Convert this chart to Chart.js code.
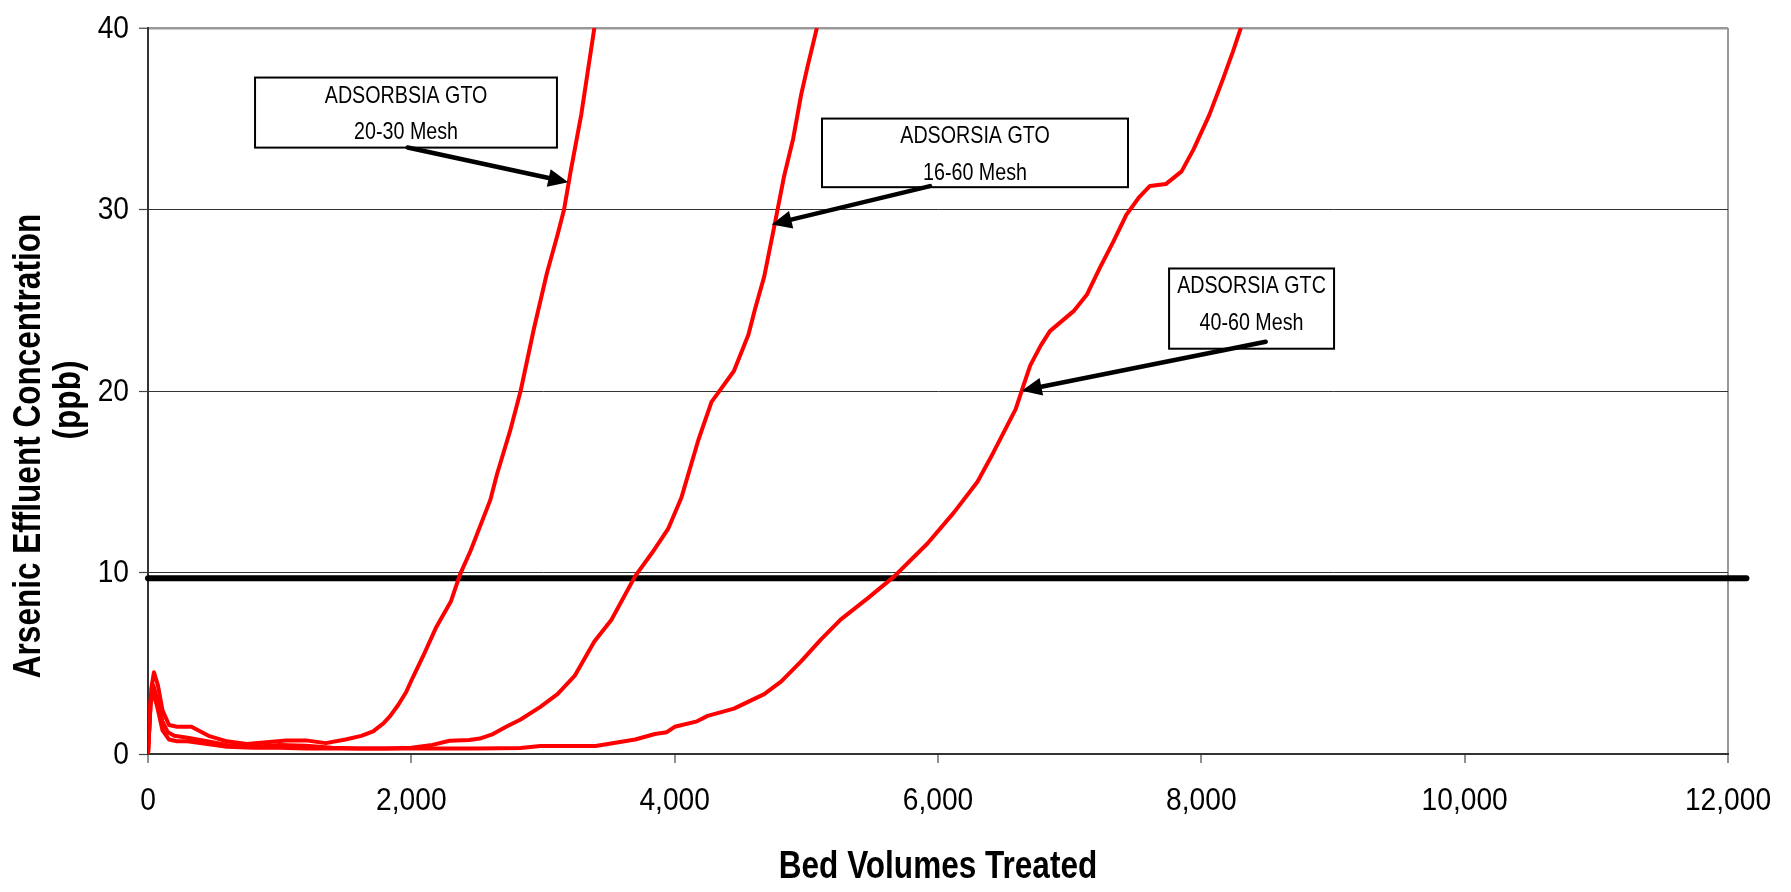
<!DOCTYPE html>
<html>
<head>
<meta charset="utf-8">
<script src="https://cdn.jsdelivr.net/npm/chart.js@4.4.1/dist/chart.umd.min.js"></script>
<style>
  html, body { margin: 0; padding: 0; background: #fff; }
  #wrap { width: 1791px; height: 892px; position: relative; }
</style>
</head>
<body>
<div id="wrap"><canvas id="grafico"></canvas></div>
<script>
const FUENTE = "'Liberation Sans', Arial, sans-serif";

// 20-30 Mesh
const bvA = [0, 25, 45, 75, 110, 160, 220, 330, 460, 600, 750, 900, 1050, 1200, 1350, 1500, 1620, 1710, 1790, 1840, 1900, 1960, 2010, 2090, 2190, 2300, 2370, 2450, 2600, 2650, 2750, 2830, 2930, 3030, 3110, 3160, 3210, 3290, 3340, 3390];
const asA = [0, 3.6, 4.5, 3.8, 2.4, 1.6, 1.5, 1.5, 1.0, 0.7, 0.55, 0.65, 0.75, 0.75, 0.6, 0.8, 1.0, 1.25, 1.7, 2.1, 2.7, 3.4, 4.2, 5.4, 7.0, 8.4, 9.9, 11.2, 14.0, 15.4, 17.8, 20.0, 23.4, 26.5, 28.6, 30.0, 32.1, 35.2, 37.6, 40.0];

// 16-60 Mesh
const bvB = [0, 20, 40, 70, 110, 150, 200, 300, 450, 600, 800, 1000, 1200, 1400, 1600, 1800, 2000, 2160, 2290, 2440, 2520, 2620, 2720, 2830, 2980, 3110, 3240, 3390, 3520, 3700, 3830, 3950, 4050, 4180, 4280, 4330, 4450, 4560, 4610, 4680, 4760, 4830, 4900, 4960, 5010, 5080];
const asB = [0, 3.0, 3.8, 3.0, 1.8, 1.2, 1.0, 0.9, 0.7, 0.5, 0.4, 0.5, 0.45, 0.35, 0.3, 0.3, 0.35, 0.5, 0.73, 0.77, 0.85, 1.1, 1.5, 1.9, 2.6, 3.3, 4.3, 6.2, 7.4, 9.8, 11.1, 12.4, 14.1, 17.3, 19.4, 19.9, 21.1, 23.1, 24.5, 26.3, 29.2, 31.8, 33.9, 36.3, 37.9, 40.0];

// 40-60 Mesh
const bvC = [0, 20, 40, 70, 110, 160, 220, 300, 450, 600, 800, 1000, 1200, 1500, 2000, 2500, 2830, 2980, 3400, 3700, 3850, 3940, 4000, 4170, 4250, 4450, 4680, 4810, 4960, 5110, 5260, 5470, 5670, 5920, 6120, 6300, 6420, 6590, 6640, 6700, 6780, 6850, 7030, 7130, 7230, 7330, 7430, 7530, 7610, 7730, 7850, 7940, 8060, 8160, 8240, 8300];
const asC = [0, 2.8, 3.4, 2.6, 1.3, 0.8, 0.7, 0.7, 0.55, 0.4, 0.35, 0.35, 0.3, 0.3, 0.3, 0.3, 0.33, 0.44, 0.44, 0.8, 1.1, 1.2, 1.5, 1.8, 2.1, 2.5, 3.3, 4.0, 5.1, 6.3, 7.4, 8.6, 9.8, 11.6, 13.3, 15.0, 16.6, 19.0, 20.1, 21.4, 22.5, 23.3, 24.4, 25.3, 26.8, 28.2, 29.7, 30.7, 31.3, 31.4, 32.1, 33.3, 35.2, 37.1, 38.7, 40.0];

// límite de 10 ppb (línea negra)
const bvLimite = [0, 12140];
const asLimite = [9.68, 9.68];

const xTicks = [0, 2000, 4000, 6000, 8000, 10000, 12000];
const xTickLabels = ['0', '2,000', '4,000', '6,000', '8,000', '10,000', '12,000'];
const yTicks = [0, 10, 20, 30, 40];
const yTickLabels = ['0', '10', '20', '30', '40'];

const tituloX = 'Bed Volumes Treated';
const tituloY = ['Arsenic Effluent Concentration', '(ppb)'];

// cajas de texto con flecha (coordenadas en unidades de datos)
const notas = [
  { lineas: ['ADSORBSIA GTO', '20-30 Mesh'], caja: [813, 37.27, 3106, 33.41], cx: 1960, ty: [36.22, 34.24], flecha: [1972, 33.42, 3192, 31.5] },
  { lineas: ['ADSORSIA GTO', '16-60 Mesh'], caja: [5119, 35.01, 7443, 31.23], cx: 6281, ty: [34.01, 31.97], flecha: [5939, 31.29, 4737, 29.18] },
  { lineas: ['ADSORSIA GTC', '40-60 Mesh'], caja: [7755, 26.75, 9008, 22.33], cx: 8381, ty: [25.74, 23.71], flecha: [8489, 22.71, 6636, 20.02] },
];

const pares = (xs, ys) => xs.map((x, i) => ({ x, y: ys[i] }));

// texto angosto (imita Arial Narrow, que no está instalada)
function textoAngosto(ctx, txt, x, y, escala) {
  ctx.save();
  ctx.translate(x, y);
  ctx.scale(escala, 1);
  ctx.fillText(txt, 0, 0);
  ctx.restore();
}

function dibujarFlecha(ctx, x1, y1, x2, y2) {
  const ang = Math.atan2(y2 - y1, x2 - x1);
  const largo = 20, ancho = 9;
  const bx = x2 - largo * Math.cos(ang), by = y2 - largo * Math.sin(ang);
  ctx.beginPath();
  ctx.moveTo(x1, y1);
  ctx.lineTo(bx, by);
  ctx.lineWidth = 4.5;
  ctx.lineCap = 'round';
  ctx.strokeStyle = '#000';
  ctx.stroke();
  ctx.beginPath();
  ctx.moveTo(x2, y2);
  ctx.lineTo(bx + ancho * Math.sin(ang), by - ancho * Math.cos(ang));
  ctx.lineTo(bx - ancho * Math.sin(ang), by + ancho * Math.cos(ang));
  ctx.closePath();
  ctx.fillStyle = '#000';
  ctx.fill();
}

const pluginNotas = {
  id: 'notas',
  afterDatasetsDraw(chart) {
    const { ctx, scales: { x, y } } = chart;
    ctx.save();
    notas.forEach(n => {
      const x0 = x.getPixelForValue(n.caja[0]), y0 = y.getPixelForValue(n.caja[1]);
      const x1 = x.getPixelForValue(n.caja[2]), y1 = y.getPixelForValue(n.caja[3]);
      ctx.fillStyle = '#fff';
      ctx.fillRect(x0, y0, x1 - x0, y1 - y0);
      ctx.lineWidth = 2;
      ctx.strokeStyle = '#000';
      ctx.strokeRect(x0, y0, x1 - x0, y1 - y0);
      ctx.fillStyle = '#000';
      ctx.font = `24px ${FUENTE}`;
      ctx.textAlign = 'center';
      ctx.textBaseline = 'middle';
      n.lineas.forEach((t, i) => textoAngosto(ctx, t, x.getPixelForValue(n.cx), y.getPixelForValue(n.ty[i]), 0.82));
      const f = n.flecha;
      dibujarFlecha(ctx, x.getPixelForValue(f[0]), y.getPixelForValue(f[1]), x.getPixelForValue(f[2]), y.getPixelForValue(f[3]));
    });
    ctx.restore();
  },
  afterDraw(chart) {
    const { ctx, chartArea: a, scales: { x, y } } = chart;
    ctx.save();
    ctx.fillStyle = '#000';

    // etiquetas de los ejes
    ctx.font = `32px ${FUENTE}`;
    ctx.textBaseline = 'middle';
    ctx.textAlign = 'center';
    xTicks.forEach((v, i) => textoAngosto(ctx, xTickLabels[i], x.getPixelForValue(v), 801, 0.88));
    ctx.textAlign = 'right';
    yTicks.forEach((v, i) => textoAngosto(ctx, yTickLabels[i], 129, y.getPixelForValue(v) + 1, 0.88));

    // títulos
    ctx.font = `bold 38px ${FUENTE}`;
    ctx.textAlign = 'center';
    textoAngosto(ctx, tituloX, (a.left + a.right) / 2, 868, 0.83);
    ctx.textBaseline = 'alphabetic';
    ctx.translate(40, 446);
    ctx.rotate(-Math.PI / 2);
    textoAngosto(ctx, tituloY[0], 0, 0, 0.83);
    textoAngosto(ctx, tituloY[1], 46, 40, 0.83);
    ctx.restore();
  }
};

const lineaRoja = { borderColor: '#ff0000', borderWidth: 4, pointRadius: 0, tension: 0, fill: false, borderJoinStyle: 'round', showLine: true, order: 1 };

new Chart(document.getElementById('grafico'), {
  type: 'scatter',
  data: {
    datasets: [
      { ...lineaRoja, label: '20-30 Mesh', data: pares(bvA, asA) },
      { ...lineaRoja, label: '16-60 Mesh', data: pares(bvB, asB) },
      { ...lineaRoja, label: '40-60 Mesh', data: pares(bvC, asC) },
      { label: 'Límite', data: pares(bvLimite, asLimite), showLine: true, borderColor: '#000', borderWidth: 6,
        borderCapStyle: 'round', pointRadius: 0, clip: false, order: 2 },
    ],
  },
  options: {
    responsive: true,
    maintainAspectRatio: false,
    animation: false,
    events: [],
    layout: { padding: { top: 28, right: 63, left: 0, bottom: 0 } },
    scales: {
      x: {
        type: 'linear', min: 0, max: 12000,
        afterFit: s => { s.height = 138; },
        afterBuildTicks: s => { s.ticks = xTicks.map(v => ({ value: v })); },
        ticks: { display: false },
        grid: {
          color: c => (c.tick && c.tick.value === 12000 ? '#999' : 'rgba(0,0,0,0)'),
          lineWidth: 2, tickColor: '#444', tickLength: 9, tickWidth: 1.2,
        },
        border: { color: '#333', width: 2 },
      },
      y: {
        min: 0, max: 40,
        afterFit: s => { s.width = 148; },
        afterBuildTicks: s => { s.ticks = yTicks.map(v => ({ value: v })); },
        ticks: { display: false },
        grid: {
          color: c => (c.tick && c.tick.value === 40 ? '#999' : c.tick && c.tick.value === 0 ? 'rgba(0,0,0,0)' : '#333'),
          lineWidth: c => (c.tick && c.tick.value === 40 ? 2.5 : 1),
          tickColor: '#444', tickLength: 9, tickWidth: 1.2,
        },
        border: { color: '#333', width: 2 },
      },
    },
    plugins: { legend: { display: false }, tooltip: { enabled: false } },
  },
  plugins: [pluginNotas],
});
</script>
</body>
</html>
